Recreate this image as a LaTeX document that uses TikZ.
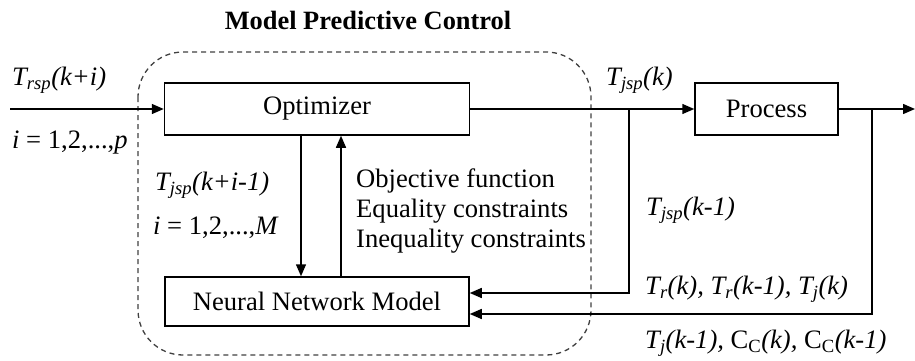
\documentclass[tikz,border=0pt]{standalone}
\usepackage{fontspec}
\setmainfont{Liberation Serif}
\usetikzlibrary{arrows.meta}
\begin{document}
\begin{tikzpicture}[x=1pt,y=-1pt,
  every node/.style={font=\fontsize{26.6}{30}\selectfont, inner sep=0pt},
  blk/.style={draw, line width=1.5pt, minimum height=52pt, anchor=center},
  conn/.style={line width=1.5pt, -{Triangle[length=12pt,width=10pt]}},
  dashbox/.style={draw=black!75, line width=1.3pt, dash pattern=on 5pt off 4pt, rounded corners=45pt},
  lbl/.style={anchor=west}]
\useasboundingbox (0,0) rectangle (915,361);
\draw[dashbox] (138,52) rectangle (591,355);
\node[font=\fontsize{26.4}{30}\selectfont\bfseries] (title) at (368,20) {Model Predictive Control};
\node[blk, minimum width=305pt] (opt) at (317,109) {Optimizer};
\node[blk, minimum width=143pt] (proc) at (766.5,109) {Process};
\node[blk, minimum width=304pt, minimum height=49pt] (nn) at (317,301.5) {Neural Network Model};
\coordinate (in) at (10,109);
\coordinate (j1) at (629,109);
\coordinate (j2) at (872,109);
\coordinate (out) at (915,109);
\coordinate (c1) at (629,293);
\coordinate (c2) at (872,314);
\coordinate (d1) at (301,0);
\coordinate (d2) at (341,0);
\draw[conn] (in) -- (opt.west);
\draw[conn] (opt.east) -- (proc.west);
\draw[conn] (proc.east) -- (out);
\draw[conn] (opt.south -| d1) -- (nn.north -| d1);
\draw[conn] (nn.north -| d2) -- (opt.south -| d2);
\draw[conn] (j1) -- (c1) -- (nn.east |- c1);
\draw[conn] (j2) -- (c2) -- (nn.east |- c2);
\node[lbl] (l1) at (12,80) {\textit{T\textsubscript{rsp}(k+i)}};
\node[lbl] (l2) at (12,143) {\textit{i} = 1,2,...,\textit{p}};
\node[lbl] (l3) at (155,185) {\textit{T\textsubscript{jsp}(k+i-1)}};
\node[lbl] (l4) at (153,228) {\textit{i} = 1,2,...,\textit{M}};
\node[lbl, align=left] (l5) at (356,211) {Objective function\\Equality constraints\\Inequality constraints};
\node[lbl] (l6) at (606,80) {\textit{T\textsubscript{jsp}(k)}};
\node[lbl] (l7) at (646,210) {\textit{T\textsubscript{jsp}(k-1)}};
\node[lbl] (l8) at (645,289) {\textit{T\textsubscript{r}(k), T\textsubscript{r}(k-1), T\textsubscript{j}(k)}};
\node[lbl] (l9) at (645,343) {\textit{T\textsubscript{j}(k-1),} C\textsubscript{C}\textit{(k),} C\textsubscript{C}\textit{(k-1)}};
\end{tikzpicture}
\end{document}
